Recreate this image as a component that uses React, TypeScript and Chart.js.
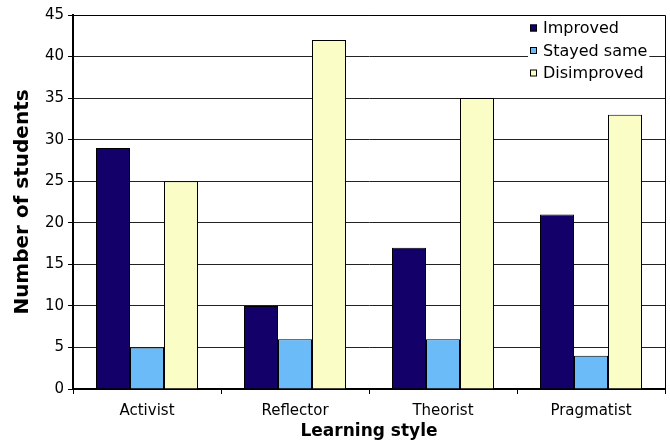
import React, { useEffect, useRef } from "react";
import { Chart, registerables } from "chart.js";

Chart.register(...registerables);

const categories = ["Activist", "Reflector", "Theorist", "Pragmatist"];
const seriesNames = ["Improved", "Stayed same", "Disimproved"];
const improved = [29, 10, 17, 21];
const stayedSame = [5, 6, 6, 4];
const disimproved = [25, 42, 35, 33];
const seriesColors = ["#130068", "#6BBBF9", "#FAFEC6"];
const yTitle = "Number of students";
const xTitle = "Learning style";

const FONT = "'DejaVu Sans', sans-serif";

const framePlugin = {
  id: "frame",
  afterDraw(chart: any) {
    const { ctx, chartArea } = chart;
    ctx.save();
    ctx.strokeStyle = "#000";
    ctx.lineWidth = 1;
    ctx.beginPath();
    ctx.moveTo(chartArea.left, chartArea.top + 0.5);
    ctx.lineTo(chartArea.right + 0.5, chartArea.top + 0.5);
    ctx.lineTo(chartArea.right + 0.5, chartArea.bottom);
    ctx.stroke();

    // legend
    ctx.font = `16px ${FONT}`;
    ctx.textBaseline = "middle";
    ctx.textAlign = "left";
    const x0 = 530;
    const ys = [28, 50.5, 73];
    chart.data.datasets.forEach((ds: any, i: number) => {
      const y = ys[i];
      const w = ctx.measureText(ds.label).width;
      ctx.fillStyle = "#fff";
      ctx.fillRect(x0 - 2, y - 10, 13 + w + 4, 20);
      ctx.fillStyle = ds.backgroundColor;
      ctx.fillRect(x0, y - 3.5, 7, 7);
      ctx.strokeStyle = "#000";
      ctx.strokeRect(x0 + 0.5, y - 3.5 + 0.5, 6, 6);
      ctx.fillStyle = "#000";
      ctx.fillText(ds.label, x0 + 13, y + 1);
    });
    ctx.restore();
  },
};

export default function App() {
  const ref = useRef<HTMLCanvasElement>(null);
  useEffect(() => {
    if (!ref.current) return;
    const values = [improved, stayedSame, disimproved];
    const chart = new Chart(ref.current, {
      type: "bar",
      data: {
        labels: categories,
        datasets: seriesNames.map((name, i) => ({
          label: name,
          data: values[i],
          backgroundColor: seriesColors[i],
          borderColor: "#000",
          borderWidth: 1,
          inflateAmount: 0,
          categoryPercentage: 102 / 148,
          barPercentage: 1,
        })),
      },
      options: {
        animation: false,
        responsive: true,
        maintainAspectRatio: false,
        layout: { padding: { top: 15, right: 5, left: 0, bottom: 0 } },
        plugins: { legend: { display: false }, tooltip: { enabled: false } },
        scales: {
          x: {
            afterFit: (s: any) => {
              s.height = 56;
            },
            grid: {
              display: true,
              drawOnChartArea: false,
              offset: true,
              tickLength: 5,
              color: "#000",
            },
            border: { display: true, color: "#000", width: 2 },
            ticks: { color: "#000", font: { family: FONT, size: 15 }, padding: 8 },
            title: {
              display: true,
              text: xTitle,
              color: "#000",
              font: { family: FONT, size: 17, weight: "bold" },
              padding: { top: 0, bottom: 3 },
            },
          },
          y: {
            min: 0,
            max: 45,
            afterFit: (s: any) => {
              s.width = 73;
            },
            grid: { color: "#222", tickLength: 5, tickColor: "#000" },
            border: { display: true, color: "#000", width: 2 },
            ticks: {
              stepSize: 5,
              color: "#000",
              font: { family: FONT, size: 15 },
              padding: 4,
            },
            title: {
              display: true,
              text: yTitle,
              color: "#000",
              font: { family: FONT, size: 20, weight: "bold" },
              padding: { top: 11, bottom: 0 },
            },
          },
        },
      },
      plugins: [framePlugin],
    });
    return () => chart.destroy();
  }, []);
  return (
    <div style={{ position: "fixed", left: 0, top: 0, width: 670, height: 445, background: "#fff" }}>
      <canvas ref={ref} />
    </div>
  );
}
